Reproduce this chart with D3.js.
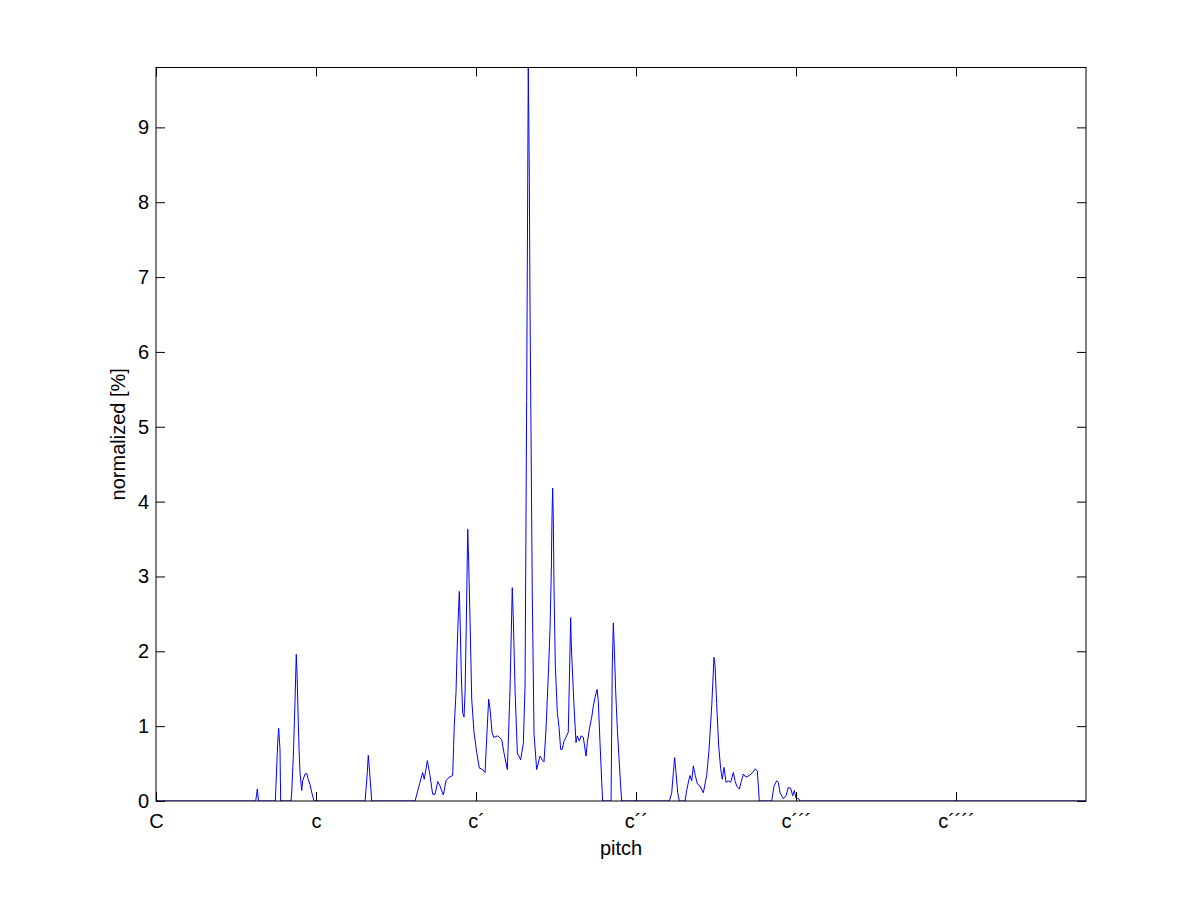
<!DOCTYPE html>
<html>
<head>
<meta charset="utf-8">
<script src="https://cdn.jsdelivr.net/npm/d3@7"></script>
<style>
  html, body { margin: 0; padding: 0; background: #fff; }
  svg text { font-family: "Liberation Sans", Arial, sans-serif; fill: #000; }
</style>
</head>
<body>
<div id="chart"></div>
<script>
// pitch in semitones above C (0 = C, 12 = c, 24 = c´, ...)
const pitch = [0,7.48,7.60,7.69,8.95,9.13,9.20,9.30,9.35,10.13,10.18,10.30,10.43,10.52,10.58,10.65,10.73,10.80,10.93,11.00,11.18,11.30,11.40,11.55,11.70,11.85,
  15.68,15.85,15.92,15.98,16.18,
  19.43,19.80,20.00,20.12,20.35,20.55,20.75,20.93,21.13,21.30,21.55,21.75,22.00,22.25,22.37,22.50,22.60,22.70,22.75,22.80,22.90,23.00,23.10,23.18,23.27,23.38,23.45,23.55,23.68,23.85,24.05,24.25,24.50,24.68,24.80,24.95,25.05,25.20,25.33,25.63,25.93,26.10,26.35,26.55,26.72,26.80,26.93,27.10,27.35,27.55,27.68,27.80,27.88,27.92,27.98,28.00,28.05,28.22,28.35,28.55,28.80,29.00,29.10,29.25,29.42,29.55,29.65,29.70,29.75,29.80,29.85,29.95,30.10,30.23,30.35,30.47,30.60,30.80,30.92,31.00,31.10,31.15,31.25,31.35,31.50,31.60,31.75,31.88,32.05,32.25,32.35,32.50,32.68,32.80,32.95,33.08,33.17,33.30,33.43,33.50,
  34.13,34.22,34.30,34.35,34.48,34.60,34.73,34.85,34.93,
  38.50,38.68,38.80,38.90,39.00,39.13,39.25,
  39.68,39.80,39.95,40.05,40.18,40.30,40.45,40.60,40.80,41.05,41.30,41.48,41.68,41.85,41.93,42.05,42.20,42.35,42.47,42.60,42.75,42.92,43.10,43.30,43.43,43.55,43.75,43.88,44.05,44.25,44.50,44.75,44.95,45.10,45.25,
  46.18,46.35,46.55,46.67,46.80,47.05,47.25,47.42,47.60,47.75,47.87,48.00,48.20,48.30,69.75];
const normalized = [0,0,0.16,0,0,0.79,0.97,0.69,0,0,0.12,0.6,1.36,1.96,1.69,1.19,0.69,0.38,0.14,0.27,0.36,0.37,0.3,0.22,0.1,0,
  0,0.38,0.61,0.49,0,
  0,0.25,0.38,0.29,0.54,0.34,0.09,0.09,0.26,0.2,0.08,0.27,0.32,0.34,1.0,1.45,2.12,2.6,2.8,2.47,1.67,1.18,1.12,1.45,2.34,3.63,3.2,2.43,1.36,0.92,0.65,0.44,0.42,0.38,0.83,1.36,1.23,0.92,0.85,0.87,0.82,0.64,0.42,1.48,2.85,2.42,1.48,0.64,0.55,0.77,1.55,5.35,8.3,9.8,8.75,8.3,6.63,2.77,0.9,0.42,0.6,0.54,0.52,0.96,1.67,2.29,3.09,3.8,4.18,3.74,2.85,1.8,1.18,0.98,0.69,0.69,0.8,0.87,0.92,1.58,2.45,2.07,1.67,1.27,0.78,0.87,0.8,0.87,0.85,0.6,0.78,0.96,1.12,1.27,1.4,1.49,1.34,0.78,0.25,0,
  0,1.8,2.38,2.16,1.45,0.96,0.56,0.2,0,
  0,0.11,0.38,0.58,0.38,0.11,0,
  0,0.14,0.27,0.34,0.27,0.47,0.34,0.23,0.2,0.11,0.34,0.69,1.27,1.92,1.8,1.3,0.74,0.43,0.29,0.45,0.25,0.27,0.25,0.38,0.27,0.2,0.16,0.25,0.36,0.32,0.34,0.38,0.43,0.40,0,
  0,0.2,0.27,0.25,0.11,0.03,0.07,0.18,0.17,0.07,0.14,0.04,0.03,0,0];
const xTickValues = [0, 12, 24, 36, 48, 60];
const xTickLabels = ["C", "c", "c\u00b4", "c\u00b4\u00b4", "c\u00b4\u00b4\u00b4", "c\u00b4\u00b4\u00b4\u00b4"];
const yTickValues = [0, 1, 2, 3, 4, 5, 6, 7, 8, 9];
const xDomain = [0, 69.75];
const yDomain = [0, 9.8];

const W = 1201, H = 901;
const mLeft = 156, mRight = 1086, mTop = 67.5, mBottom = 801;
const tickLen = 9;
const fontSize = 20;

const svg = d3.select("#chart").append("svg").attr("width", W).attr("height", H);
svg.append("rect").attr("width", W).attr("height", H).attr("fill", "#fff");

const x = d3.scaleLinear().domain(xDomain).range([mLeft, mRight]);
const y = d3.scaleLinear().domain(yDomain).range([mBottom, mTop]);

const defs = svg.append("defs");
defs.append("clipPath").attr("id", "clip").append("rect")
  .attr("x", mLeft).attr("y", mTop).attr("width", mRight - mLeft).attr("height", mBottom - mTop);

const data = pitch.map((p, i) => [p, normalized[i]]);
svg.append("path")
  .attr("clip-path", "url(#clip)")
  .attr("d", d3.line().x(d => x(d[0])).y(d => y(d[1]))(data))
  .attr("fill", "none").attr("stroke", "#0000ff").attr("stroke-width", 1);

const xAxisB = d3.axisBottom(x).tickValues(xTickValues).tickFormat((d, i) => xTickLabels[i]).tickSizeInner(-tickLen).tickSizeOuter(0).tickPadding(13);
const gB = svg.append("g").attr("transform", `translate(0,${mBottom})`).call(xAxisB);
const xAxisT = d3.axisTop(x).tickValues(xTickValues).tickFormat("").tickSizeInner(-tickLen).tickSizeOuter(0);
const gT = svg.append("g").attr("transform", `translate(0,${mTop})`).call(xAxisT);
const yAxisL = d3.axisLeft(y).tickValues(yTickValues).tickFormat(d3.format("d")).tickSizeInner(-tickLen).tickSizeOuter(0).tickPadding(7);
const gL = svg.append("g").attr("transform", `translate(${mLeft},0)`).call(yAxisL);
const yAxisR = d3.axisRight(y).tickValues(yTickValues).tickFormat("").tickSizeInner(-tickLen).tickSizeOuter(0);
const gR = svg.append("g").attr("transform", `translate(${mRight},0)`).call(yAxisR);

[gB, gT, gL, gR].forEach(g => {
  g.select(".domain").remove();
  g.selectAll(".tick line").attr("stroke", "#000").attr("stroke-width", 1);
  g.selectAll("text").attr("font-size", fontSize).attr("fill", "#000")
    .attr("font-family", "'Liberation Sans', Arial, sans-serif");
});

svg.append("rect").attr("x", mLeft).attr("y", mTop).attr("width", mRight - mLeft).attr("height", mBottom - mTop)
  .attr("fill", "none").attr("stroke", "#000").attr("stroke-width", 1);

svg.append("text").attr("x", (mLeft + mRight) / 2).attr("y", 855)
  .attr("text-anchor", "middle").attr("font-size", fontSize).text("pitch");
svg.append("text").attr("transform", `translate(125,${(mTop + mBottom) / 2}) rotate(-90)`)
  .attr("text-anchor", "middle").attr("font-size", fontSize).text("normalized [%]");
</script>
</body>
</html>
